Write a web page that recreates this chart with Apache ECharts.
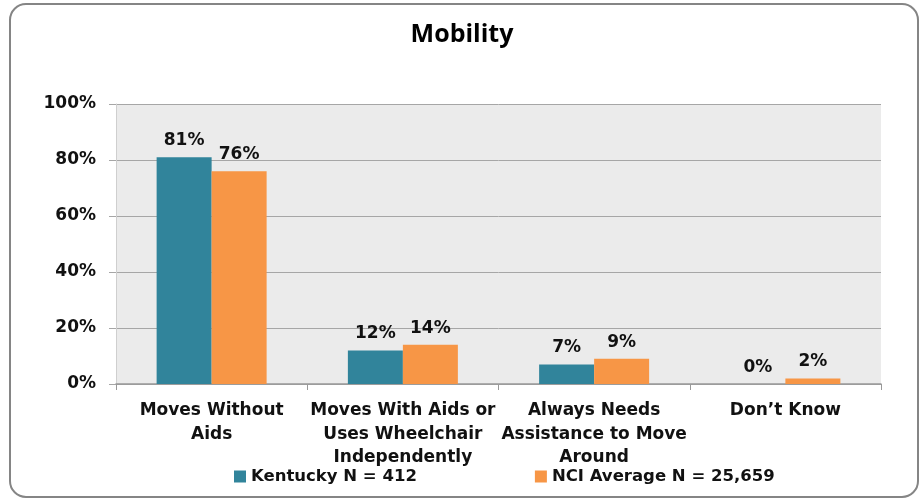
<!DOCTYPE html>
<html><head><meta charset="utf-8">
<script src="https://cdn.jsdelivr.net/npm/echarts@6/dist/echarts.min.js"></script>
<style>html,body{margin:0;padding:0;background:#fff}#c{width:924px;height:502px}</style>
</head><body><div id="c"></div>
<script>
var categories = ["Moves Without\nAids", "Moves With Aids or\nUses Wheelchair\nIndependently", "Always Needs\nAssistance to Move\nAround", "Don\u2019t Know"];
var kentucky = [81, 12, 7, 0];
var nciAverage = [76, 14, 9, 2];
var seriesNames = ["Kentucky N = 412", "NCI Average N = 25,659"];
var yTicks = [0, 20, 40, 60, 80, 100];
var FONT = "DejaVu Sans";
var chart = echarts.init(document.getElementById('c'));
var lbl = {show:true, position:'top', formatter:'{c}%', color:'#111', fontFamily:FONT, fontWeight:'bold', fontSize:17, distance:8};
chart.setOption({
  animation:false,
  graphic:[{type:'rect', shape:{x:10,y:4,width:908,height:493,r:16}, style:{fill:'none', stroke:'#858585', lineWidth:2}, z:-1}],
  title:{text:'Mobility', left:'center', top:17, textStyle:{fontFamily:"Open Sans", fontWeight:'bold', fontSize:25, color:'#000'}},
  legend:{bottom:12, left:229, itemWidth:12, itemHeight:12, itemGap:118, icon:'rect',
    textStyle:{fontFamily:FONT, fontWeight:'bold', fontSize:16.5, color:'#111'}},
  grid:{left:116, right:43, top:104, bottom:118, show:true, backgroundColor:'#ebebeb', borderWidth:0},
  xAxis:{type:'category', data:categories,
    axisLine:{lineStyle:{color:'#999', width:1.5}}, axisTick:{show:true, length:6, lineStyle:{color:'#999'}},
    axisLabel:{fontFamily:FONT, fontWeight:'bold', fontSize:17, color:'#111', lineHeight:23.5, margin:15, interval:0}},
  yAxis:{type:'value', min:0, max:100, interval:20,
    axisLine:{show:true, lineStyle:{color:'#cfcfcf'}}, axisTick:{show:true, length:7, lineStyle:{color:'#a6a6a6'}},
    splitLine:{lineStyle:{color:'#a6a6a6', width:1}},
    axisLabel:{formatter:function(v){return yTicks.indexOf(v)>=0? v+'%':'';}, fontFamily:FONT, fontWeight:'bold', fontSize:17, color:'#111', margin:20}},
  series:[
    {name:seriesNames[0], type:'bar', data:kentucky, itemStyle:{color:'#31849b'}, barWidth:55, barGap:'0%', label:lbl},
    {name:seriesNames[1], type:'bar', data:nciAverage, itemStyle:{color:'#f79646'}, barWidth:55, barGap:'0%', label:lbl}
  ]
});
</script></body></html>
